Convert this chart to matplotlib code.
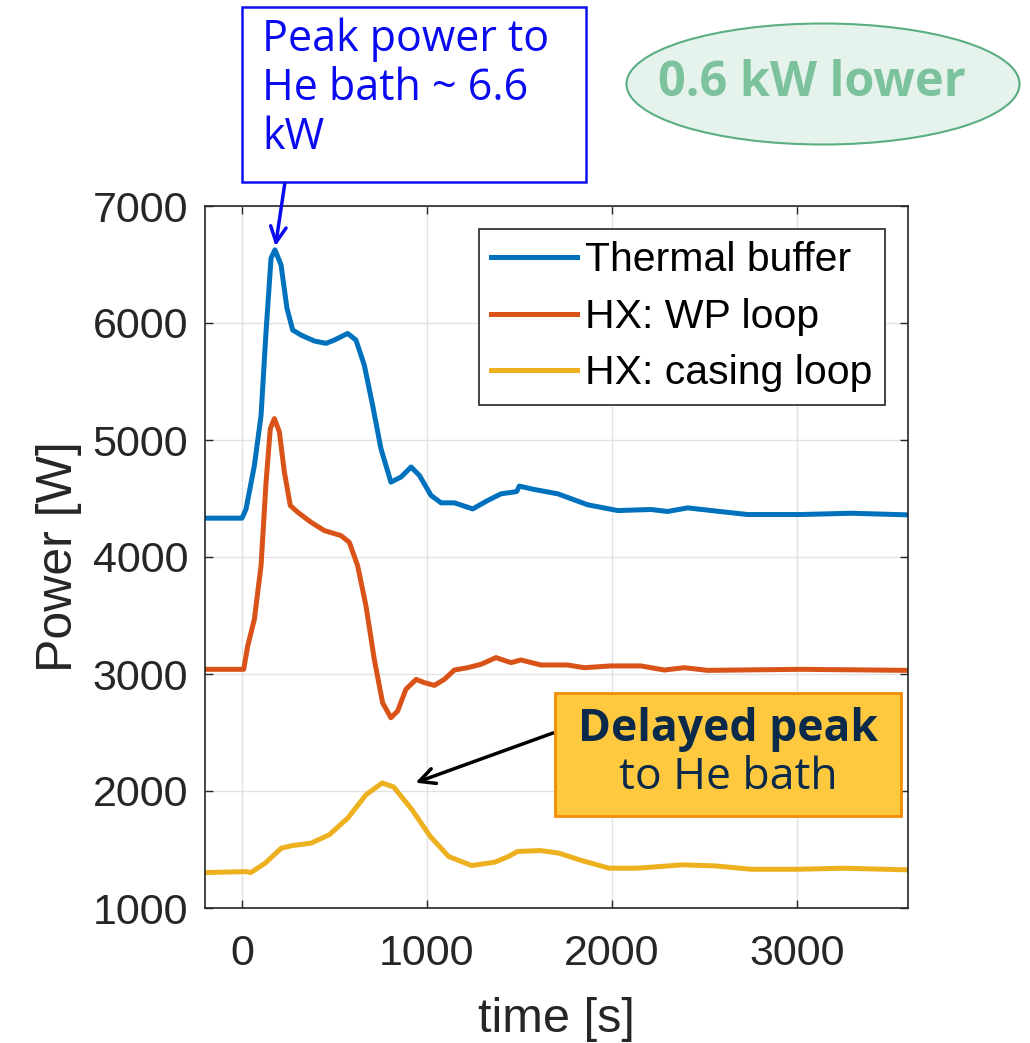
import matplotlib
matplotlib.use('Agg')
import matplotlib.pyplot as plt
from matplotlib.patches import Rectangle, Ellipse

buffer_t = [-200, 0, 22, 67, 103, 130, 157, 178, 211, 243, 274, 319, 391, 454, 499,
            571, 616, 661, 706, 751, 805, 859, 914, 959, 1022, 1076, 1148, 1247, 1328,
            1400, 1463, 1485, 1499, 1580, 1707, 1869, 2031, 2211, 2301, 2409, 2571,
            2733, 3021, 3292, 3600]
buffer_p = [4332, 4332, 4411, 4783, 5211, 5928, 6554, 6625, 6497, 6126, 5940, 5897,
            5846, 5826, 5854, 5911, 5854, 5640, 5297, 4926, 4640, 4683, 4769, 4697,
            4526, 4463, 4463, 4411, 4483, 4540, 4554, 4560, 4606, 4577, 4540, 4446,
            4397, 4406, 4389, 4420, 4391, 4363, 4363, 4374, 4360]

wp_t = [-200, 9, 31, 67, 103, 130, 153, 175, 202, 229, 261, 301, 373, 445, 535, 580,
        625, 670, 715, 760, 805, 841, 886, 941, 986, 1040, 1094, 1148, 1220, 1292,
        1373, 1454, 1508, 1616, 1760, 1850, 1994, 2157, 2283, 2391, 2517, 3021, 3600]
wp_p = [3040, 3040, 3240, 3469, 3926, 4640, 5097, 5183, 5069, 4726, 4440, 4383, 4297,
        4226, 4183, 4126, 3926, 3583, 3126, 2754, 2626, 2683, 2869, 2954, 2926, 2903,
        2954, 3034, 3054, 3083, 3140, 3097, 3120, 3077, 3077, 3054, 3069, 3069, 3034,
        3054, 3031, 3040, 3031]

casing_t = [-200, 23, 48, 125, 212, 274, 373, 472, 572, 671, 758, 820, 919, 1018,
            1117, 1241, 1365, 1440, 1489, 1613, 1712, 1836, 1985, 2134, 2382, 2556,
            2754, 3002, 3250, 3600]
casing_p = [1303, 1311, 1303, 1383, 1511, 1534, 1554, 1626, 1769, 1969, 2069, 2034,
            1840, 1611, 1440, 1363, 1391, 1440, 1483, 1491, 1469, 1406, 1340, 1340,
            1369, 1360, 1331, 1331, 1340, 1326]

labels = ['Thermal buffer', 'HX: WP loop', 'HX: casing loop']
colors = ['#0072BD', '#D95319', '#EDB120']

W, H = 1030, 1043


def px(x, y):
    # pixel position (from top-left) -> figure fraction
    return x / W, 1 - y / H


plt.rcParams['font.family'] = ['Liberation Sans', 'DejaVu Sans']
fig = plt.figure(figsize=(W / 100, H / 100), dpi=100)
ax = fig.add_axes([205 / W, 1 - 908 / H, 703 / W, 702 / H])

for t, p, lab, c in zip([buffer_t, wp_t, casing_t], [buffer_p, wp_p, casing_p],
                        labels, colors):
    ax.plot(t, p, color=c, lw=3.6, label=lab, solid_joinstyle='round')

ax.set_xlim(-200, 3600)
ax.set_ylim(1000, 7000)
ax.set_xticks([0, 1000, 2000, 3000])
ax.set_yticks(range(1000, 7001, 1000))
ax.grid(True, color='#e2e2e2', lw=1)
ax.set_axisbelow(True)
ax.tick_params(direction='in', length=6, width=1, top=True, right=True,
               labelsize=31, colors='#262626')
ax.tick_params(axis='y', pad=12)
ax.tick_params(axis='x', pad=19)
for s in ax.spines.values():
    s.set_color('#262626')
    s.set_linewidth(1.2)
ax.set_xlabel('time [s]', fontsize=35, color='#262626', labelpad=16)
ax.set_ylabel('Power [W]', fontsize=36, color='#262626', labelpad=8)

leg = ax.legend(loc='upper right', bbox_to_anchor=(0.967, 0.967), borderaxespad=0,
                fontsize=29.5, fancybox=False, edgecolor='#262626', framealpha=1,
                handlelength=2.1, handletextpad=0.2, labelspacing=0.45,
                borderpad=0.3)
leg.get_frame().set_linewidth(1.2)

# blue call-out box
x0, y0 = px(242, 182)
x1, y1 = px(586, 7)
fig.add_artist(Rectangle((x0, y0), x1 - x0, y1 - y0, transform=fig.transFigure,
                         facecolor='white', edgecolor='#1010ee', lw=1.8))
fig.text(*px(262, 18), 'Peak power to\nHe bath ~ 6.6\nkW', color='#0a0af0',
         fontsize=31, family='Open Sans', va='top', ha='left', linespacing=1.12)
ax.annotate('', xy=(181, 6657), xycoords='data', xytext=px(285, 182),
            textcoords='figure fraction', annotation_clip=False,
            arrowprops=dict(arrowstyle='->', color='#0a0af0', lw=2.5,
                            mutation_scale=28, shrinkA=0, shrinkB=0))

# green ellipse
ex, ey = px(823, 84)
fig.add_artist(Ellipse((ex, ey), 393 / W, 121 / H, transform=fig.transFigure,
                       facecolor='#e6f3ec', edgecolor='#5aae80', lw=1.5))
fig.text(812 / W, ey, '0.6 kW lower', color='#7cc29c', fontsize=35,
         family='Open Sans', weight='bold', ha='center', va='center')

# yellow call-out box
x0, y0 = px(555, 816)
x1, y1 = px(901, 693)
fig.add_artist(Rectangle((x0, y0), x1 - x0, y1 - y0, transform=fig.transFigure,
                         facecolor='#fec93f', edgecolor='#f28c00', lw=2))
fig.text(*px(728, 730), 'Delayed peak', color='#0b2a4a', fontsize=32,
         family='Open Sans', weight='bold', ha='center', va='center')
fig.text(*px(728, 778), 'to He bath', color='#0b2a4a', fontsize=32,
         family='Open Sans', ha='center', va='center')
ax.annotate('', xy=(938, 2071), xycoords='data', xytext=px(553, 733),
            textcoords='figure fraction', annotation_clip=False,
            arrowprops=dict(arrowstyle='->', color='black', lw=2.5,
                            mutation_scale=28, shrinkA=0, shrinkB=0))

fig.savefig('out.png', dpi=100)
